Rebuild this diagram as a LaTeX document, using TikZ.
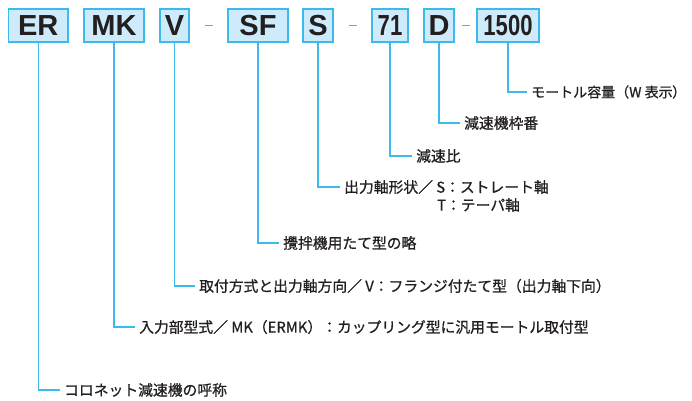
\documentclass[tikz,border=0pt]{standalone}
\usepackage{fontspec}
\setmainfont{Liberation Sans}
\newfontfamily\jpfont[FakeBold=0.8]{Noto Sans CJK JP}
\newfontfamily\jpfontp[FakeBold=0.8,RawFeature=+palt]{Noto Sans CJK JP}
\usepackage{xcolor}
\definecolor{cLine}{HTML}{3DB9EC}
\definecolor{cFill}{HTML}{CDEBFA}
\definecolor{cText}{HTML}{231F20}
\usetikzlibrary{positioning,calc}
\newcommand{\cnum}[1]{\scalebox{0.76}[1]{#1}}
\newcommand{\halfclose}{{\jpfontp ）}}
\tikzset{
  code-box/.style={draw=cLine,line width=1.4pt,fill=cFill,inner sep=0pt,
    minimum height=33pt,text=cText,font=\fontsize{29}{29}\selectfont\bfseries},
  code-dash/.style={draw=cLine,line width=1.2pt},
  leader/.style={draw=cLine,line width=1.2pt,shorten >=4pt},
  note/.style={anchor=west,inner sep=0pt,text=cText,
    font=\jpfont\fontsize{14.8}{16}\selectfont},
}

\begin{document}
\begin{tikzpicture}[x=1pt,y=-1pt]
  \useasboundingbox (0,0) rectangle (692,400);
  % code boxes
  \foreach \name/\txt/\xc/\w in {er/ER/38.25/59.5, mk/MK/114/60, v/V/174.5/29,
      sf/SF/258/60, s/S/318/30, n71/{\cnum{71}}/390/36, d/D/439/30,
      n1500/{\cnum{1500}}/508/62} {
    \node[code-box,minimum width=\w pt] (\name) at (\xc,25.5) {\txt};
  }
  \foreach \a/\b in {v/sf, s/n71, d/n1500}
    \draw[code-dash] ($(\a.east)!0.5!(\b.west)+(-4,0)$) -- +(8,0);
  % explanations
  \foreach \name/\x/\y/\txt in {
      n1500/531/92/{\fontsize{14}{16}\selectfont モートル容量（W 表示\halfclose},
      d/464/123/{減速機枠番},
      n71/416/156/{減速比},
      s/344/187/{出力軸形状／ S：ストレート軸},
      sf/283/243/{攪拌機用たて型の略},
      v/199/286/{取付方式と出力軸方向／ V：フランジ付たて型（出力軸下向）},
      mk/139/327/{入力部型式／ MK（ERMK）：カップリング型に汎用モートル取付型},
      er/64/390/{コロネット減速機の呼称}} {
    \node[note] (l-\name) at (\x,\y) {\txt};
    \draw[leader] (\name.south) |- (l-\name.west);
  }
  \node[note] (l-s2) at (437,205) {T：テーパ軸};
\end{tikzpicture}
\end{document}
